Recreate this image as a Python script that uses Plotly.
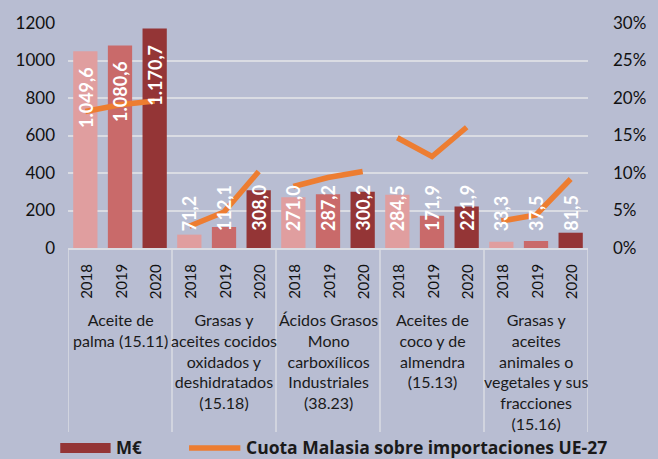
import plotly.graph_objects as go

# datos (M€ y cuota de Malasia)
categorias = [
    "Aceite de<br>palma (15.11)",
    "Grasas y<br>aceites cocidos<br>oxidados y<br>deshidratados<br>(15.18)",
    "Ácidos Grasos<br>Mono<br>carboxílicos<br>Industriales<br>(38.23)",
    "Aceites de<br>coco y de<br>almendra<br>(15.13)",
    "Grasas y<br>aceites<br>animales o<br>vegetales y sus<br>fracciones<br>(15.16)",
]
anios = ["2018", "2019", "2020"]
valores_meur = [
    1049.6, 1080.6, 1170.7,
    71.2, 112.1, 308.0,
    271.0, 287.2, 300.2,
    284.5, 171.9, 221.9,
    33.3, 37.5, 81.5,
]
cuota_malasia = [
    0.182, 0.191, 0.196,
    0.029, 0.048, 0.102,
    0.082, 0.094, 0.102,
    0.147, 0.122, 0.161,
    0.036, 0.044, 0.092,
]
colores_anio = ["#E09E9F", "#C96A6A", "#943536"]

FONT = "Lato"
BG = "#B8BDD2"
GRID = "#DADCE3"

# geometría en píxeles del área de trazado
W, H = 658, 459
L, R, T, B = 68, 53, 23, 211
PW, PH = W - L - R, H - T - B


def px_x(p):
    return (p - L) / PW


def px_y(p):
    return (H - B - p) / PH


def fmt_es(v):
    return f"{v:,.1f}".replace(",", "X").replace(".", ",").replace("X", ".")


n = len(valores_meur)
xs = list(range(n))
colores = [colores_anio[i % 3] for i in range(n)]

fig = go.Figure()
fig.add_trace(go.Bar(
    x=xs, y=valores_meur, marker=dict(color=colores, line=dict(width=0)),
    width=0.7, showlegend=False, hoverinfo="skip",
))

# línea cortada por categoría
lx, ly = [], []
for c in range(len(categorias)):
    for k in range(3):
        lx.append(c * 3 + k)
        ly.append(cuota_malasia[c * 3 + k])
    lx.append(None)
    ly.append(None)
fig.add_trace(go.Scatter(
    x=lx, y=ly, yaxis="y2", mode="lines",
    line=dict(color="#ED7D31", width=5.5), showlegend=False, hoverinfo="skip",
))

ann = []
# etiquetas de valores
for i, v in enumerate(valores_meur):
    if v > 600:
        ann.append(dict(x=i, y=v, xref="x", yref="y", text=fmt_es(v), textangle=-90,
                        showarrow=False, yanchor="top", yshift=-14,
                        font=dict(family=FONT, size=18, color="white", weight="bold")))
    else:
        ann.append(dict(x=i, y=0, xref="x", yref="y", text=fmt_es(v), textangle=-90,
                        showarrow=False, yanchor="bottom", yshift=15,
                        font=dict(family=FONT, size=18, color="white", weight="bold")))

# años
for i in xs:
    ann.append(dict(x=i, y=0, xref="x", yref="paper", text=anios[i % 3], textangle=-90,
                    showarrow=False, yanchor="top", yshift=-14,
                    font=dict(family=FONT, size=15, color="#111111")))

# categorías
for c, txt in enumerate(categorias):
    ann.append(dict(x=c * 3 + 1, y=0, xref="x", yref="paper", text=txt,
                    showarrow=False, yanchor="top", yshift=-60, align="center",
                    font=dict(family=FONT, size=16, color="#1a1a1a")))

# leyenda manual
ann.append(dict(x=px_x(117), y=px_y(447), xref="paper", yref="paper", text="<b>M€</b>",
                showarrow=False, xanchor="left", yanchor="middle", borderpad=0,
                font=dict(family="Open Sans", size=17, color="#1a1a1a")))
ann.append(dict(x=px_x(251), y=px_y(447), xref="paper", yref="paper",
                text="<b>Cuota Malasia sobre importaciones UE-27</b>",
                showarrow=False, xanchor="left", yanchor="middle", borderpad=0,
                font=dict(family="Open Sans", size=17.5, color="#1a1a1a")))

shapes = []
for k in range(len(categorias) + 1):
    shapes.append(dict(type="line", xref="x", yref="paper", x0=k * 3 - 0.5, x1=k * 3 - 0.5,
                       y0=0, y1=px_y(432), line=dict(color=GRID, width=1.5)))
shapes.append(dict(type="rect", xref="paper", yref="paper", x0=px_x(60), x1=px_x(112),
                   y0=px_y(453), y1=px_y(443), fillcolor="#943536", line=dict(width=0)))
shapes.append(dict(type="line", xref="paper", yref="paper", x0=px_x(193), x1=px_x(246),
                   y0=px_y(448), y1=px_y(448), line=dict(color="#ED7D31", width=5.5)))

fig.update_layout(
    width=W, height=H,
    margin=dict(l=L, r=R, t=T, b=B),
    paper_bgcolor=BG, plot_bgcolor=BG,
    font=dict(family=FONT, size=17, color="#111111"),
    bargap=0.3,
    xaxis=dict(range=[-0.5, n - 0.5], showticklabels=False, showgrid=False, zeroline=False,
               showline=True, linecolor=GRID, linewidth=1.5),
    yaxis=dict(range=[0, 1200], dtick=200, showgrid=True, gridcolor=GRID, gridwidth=1.5,
               zeroline=False, ticks="", ticklabelstandoff=12),
    yaxis2=dict(range=[0, 0.30], dtick=0.05, tickformat=".0%", overlaying="y", side="right",
                showgrid=False, zeroline=False, ticks="", ticklabelstandoff=24),
    annotations=ann,
    shapes=shapes,
)

# sin margen del body para que la figura ocupe toda la ventana
fig.write_html(
    "out.html",
    config={"displayModeBar": False},
    post_script="document.body.style.margin='0';document.body.style.background='%s';" % BG,
)
